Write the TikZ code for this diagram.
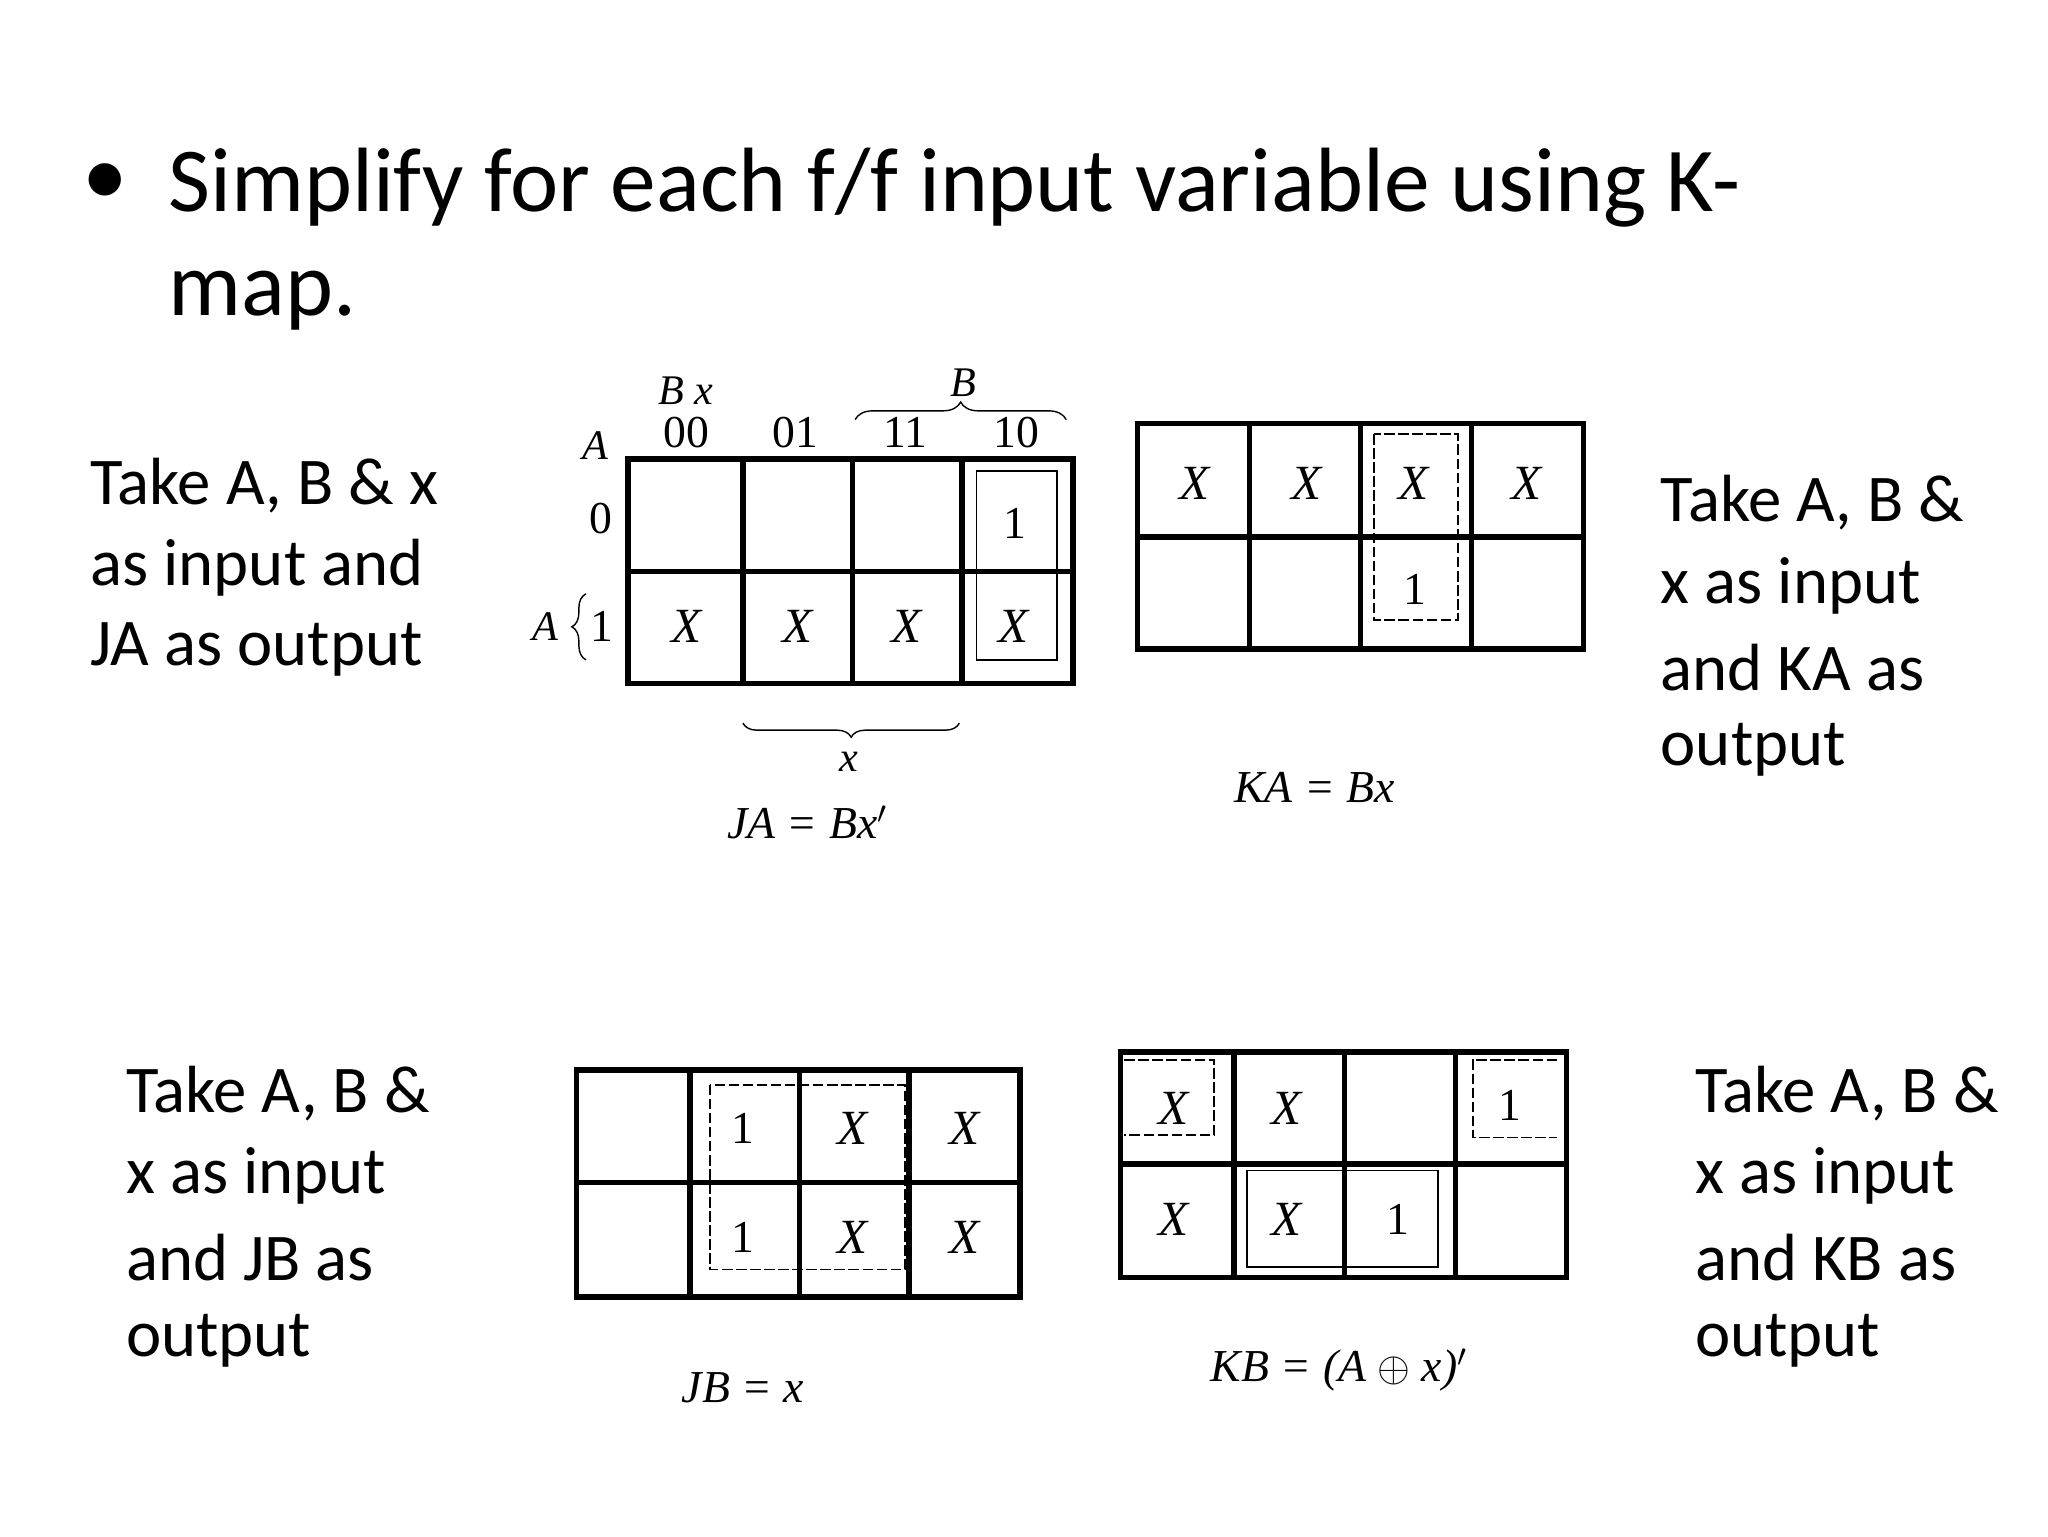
\documentclass[tikz,border=0pt]{standalone}
\usepackage{fontspec}
\setmainfont{Carlito}
\newfontfamily\kmf{Liberation Serif}
\usetikzlibrary{decorations.pathreplacing}
\begin{document}
\begin{tikzpicture}[x=0.0132cm,y=-0.0132cm,
  body/.style={anchor=west,font=\fontsize{19}{24}\selectfont,inner sep=0},
  ent/.style={font=\kmf\itshape\fontsize{14}{14}\selectfont},
  one/.style={font=\kmf\fontsize{13}{13}\selectfont},
  lab/.style={font=\kmf\itshape\fontsize{12}{12}\selectfont},
  grid/.style={line width=1.6pt},
  grp/.style={line width=0.5pt},
  dgrp/.style={line width=0.5pt,dash pattern=on 3pt off 1pt}]
\useasboundingbox (0,0) rectangle (1552,1164);
% title
\node[anchor=center,font=\fontsize{26}{30}\selectfont] (bul) at (80,140) {•};
\node[body,font=\fontsize{26}{30}\selectfont] (t1) at (127,142) {Simplify for each f/f input variable using K-};
\node[body,font=\fontsize{26}{30}\selectfont] (t2) at (127,228) {map.};
% side texts
\node[body] (ja1) at (68,368) {Take A, B \& x};
\node[body] (ja2) at (68,430) {as input and};
\node[body] (ja3) at (68,492) {JA as output};
\node[body] (ka1) at (1258,381) {Take A, B \&};
\node[body] (ka2) at (1258,444) {x as input};
\node[body] (ka3) at (1258,506) {and KA as};
\node[body] (ka4) at (1258,568) {output};
\node[body] (jb1) at (95,829) {Take A, B \&};
\node[body] (jb2) at (95,891) {x as input};
\node[body] (jb3) at (95,953) {and JB as};
\node[body] (jb4) at (95,1016) {output};
\node[body] (kb1) at (1284,829) {Take A, B \&};
\node[body] (kb2) at (1284,891) {x as input};
\node[body] (kb3) at (1284,953) {and KB as};
\node[body] (kb4) at (1284,1016) {output};
% JA map
\draw[grid] (476,348) rectangle (813,518);
\draw[grid] (476,433) -- (813,433);
\foreach \c in {563,646,729} \draw[grid] (\c,348) -- (\c,518);
\draw[grp] (740,357) rectangle (801,500);
\node[one] (ja01) at (769,397) {1};
\foreach \c/\n in {520/a,604/b,687/c,768/d} \node[ent] (ja1\n) at (\c,475) {X};
\node[lab] (jbx) at (520,296) {B x};
\node[lab] (jA) at (451,338) {A};
\foreach \c/\t in {520/00,603/01,686/11,770/10} \node[lab,font=\kmf\fontsize{13}{13}\selectfont] (jh\t) at (\c,328) {\t};
\node[lab] (jB) at (730,290) {B};
\draw[decorate,decoration={brace,amplitude=5pt}] (648,318) -- (808,318);
\node[lab,font=\kmf\fontsize{13}{13}\selectfont] (jr0) at (455,393) {0};
\node[lab,font=\kmf\fontsize{13}{13}\selectfont] (jr1) at (456,475) {1};
\draw[decorate,decoration={brace,amplitude=4pt}] (444,500) -- (444,450);
\node[lab] (jA2) at (413,475) {A};
\draw[decorate,decoration={brace,amplitude=4pt,mirror}] (563,548) -- (727,548);
\node[lab] (jx) at (643,577) {x};
\node[lab,font=\kmf\itshape\fontsize{13}{13}\selectfont] (jaeq) at (612,623) {JA = Bx$'$};
% KA map
\draw[grid] (862,321) rectangle (1200,492);
\draw[grid] (862,407) -- (1200,407);
\foreach \c in {947,1031,1115} \draw[grid] (\c,321) -- (\c,492);
\draw[dgrp] (1041,329) rectangle (1105,470);
\foreach \c/\n in {905/a,990/b,1071/c,1157/d} \node[ent] (ka0\n) at (\c,366) {X};
\node[one] (ka1c) at (1072,447) {1};
\node[lab,font=\kmf\itshape\fontsize{13}{13}\selectfont] (kaeq) at (996,597) {KA = Bx};
% JB map
\draw[grid] (437,811) rectangle (773,983);
\draw[grid] (437,896) -- (773,896);
\foreach \c in {523,606,689} \draw[grid] (\c,811) -- (\c,983);
\draw[dgrp] (538,822) rectangle (686,962);
\node[one] (jb0b) at (563,855) {1};
\node[ent] (jb0c) at (646,855) {X};
\node[ent] (jb0d) at (731,855) {X};
\node[one] (jb1b) at (563,938) {1};
\node[ent] (jb1c) at (646,938) {X};
\node[ent] (jb1d) at (731,938) {X};
\node[lab,font=\kmf\itshape\fontsize{13}{13}\selectfont] (jbeq) at (563,1052) {JB = x};
% KB map
\draw[grid] (849,797) rectangle (1187,968);
\draw[grid] (849,882) -- (1187,882);
\foreach \c in {935,1019,1103} \draw[grid] (\c,797) -- (\c,968);
\draw[dgrp] (852,803) -- (920,803) -- (920,860) -- (852,860);
\draw[dgrp] (1180,803) -- (1116,803) -- (1116,862) -- (1180,862);
\draw[grp] (945,887) rectangle (1090,960);
\node[ent] (kb0a) at (889,840) {X};
\node[ent] (kb0b) at (975,840) {X};
\node[one] (kb0d) at (1144,838) {1};
\node[ent] (kb1a) at (889,924) {X};
\node[ent] (kb1b) at (975,924) {X};
\node[one] (kb1c) at (1059,924) {1};
\node[lab,font=\kmf\itshape\fontsize{13}{13}\selectfont] (kbeq) at (1015,1038) {KB = (A $\oplus$ x)$'$};
\end{tikzpicture}
\end{document}
